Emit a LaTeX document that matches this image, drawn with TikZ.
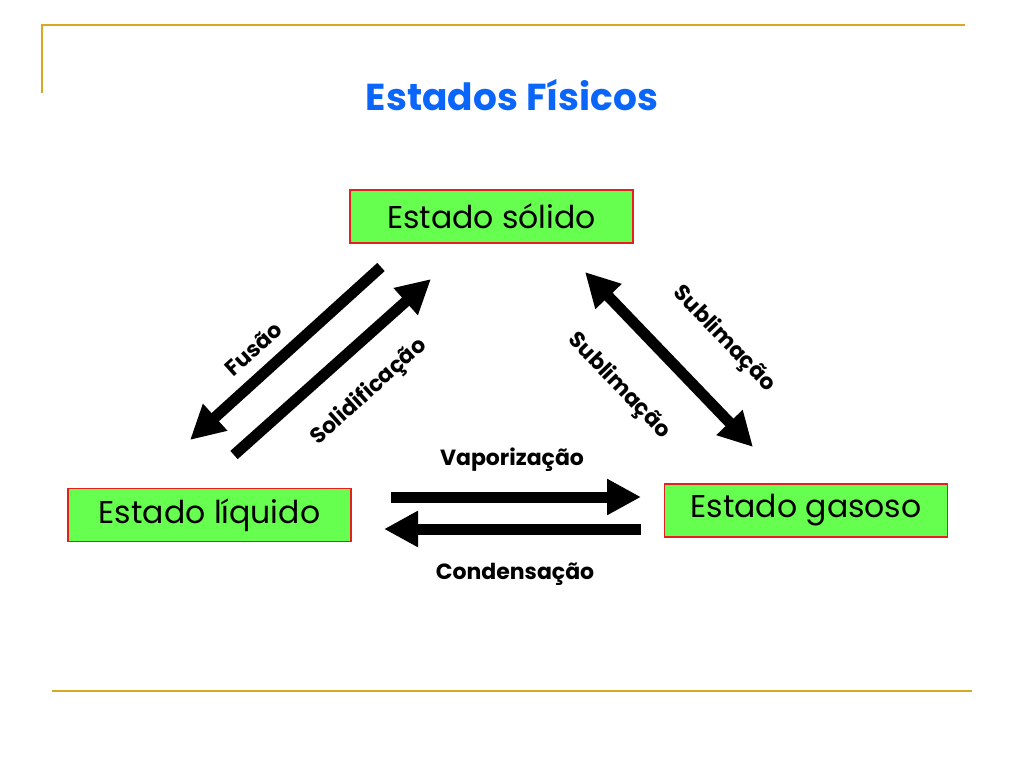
\documentclass[tikz,border=0pt]{standalone}
\usepackage{fontspec}
\setmainfont{Poppins}
\usepackage{xcolor}
\usepackage{tikz}
\usepackage{tkz-euclide}
\usetikzlibrary{arrows.meta,positioning}
\definecolor{rulegold}{RGB}{214,168,36}
\definecolor{titleblue}{RGB}{10,102,250}
\definecolor{boxgreen}{RGB}{102,255,80}
\definecolor{boxred}{RGB}{230,30,30}

\begin{document}
\begin{tikzpicture}[x=1pt,y=-1pt,
  statebox/.style={draw=boxred,line width=1.5pt,fill=boxgreen,minimum width=283pt,
    minimum height=53pt,inner sep=0pt,font=\fontsize{31.5}{36}\selectfont},
  bigarrow/.style={line width=11pt,-{Triangle[width=34pt,length=34pt]}},
  botharrow/.style={line width=11pt,{Triangle[width=34pt,length=34pt]}-{Triangle[width=34pt,length=34pt]}},
  arrowlabel/.style={font=\fontsize{22}{26}\selectfont\bfseries,inner sep=1pt}]
\useasboundingbox (0,0) rectangle (1024,768);

% frame lines
\tkzDefPoint(42,25){tl};
\tkzDefPoint(965,25){tr};
\tkzDefPoint(42,93){tll};
\tkzDefPoint(52,691){bl};
\tkzDefPoint(972,691){br};
\draw[rulegold,line width=2pt] (tll) -- (tl) -- (tr);
\draw[rulegold,line width=2pt] (bl) -- (br);

\node[text=titleblue,font=\fontsize{37.5}{44}\selectfont\bfseries] (title) at (512,95) {Estados Físicos};

% states
\node[statebox] (solido) at (491.5,216.5) {Estado sólido};
\node[statebox] (liquido) at (209.5,515) {Estado líquido};
\node[statebox] (gasoso) at (806,510.5) {Estado gasoso};

% solido <-> liquido
\tkzDefPoint(381,267){fusA};
\tkzDefPoint(190,440){fusB};
\draw[bigarrow] (fusA) -- (fusB);
\node[arrowlabel,rotate=42] (fusao) at (253,349) {Fusão};

\tkzDefPoint(234,455){solA};
\tkzDefPoint(431,279){solB};
\draw[bigarrow] (solA) -- (solB);
\node[arrowlabel,rotate=42] (solidif) at (369,392) {Solidificação};

% solido <-> gasoso
\tkzDefPoint(585,272){subA};
\tkzDefPoint(753,447){subB};
\draw[botharrow] (subA) -- (subB);
\node[arrowlabel,rotate=-46] (sublimL) at (619,386) {Sublimação};
\node[arrowlabel,rotate=-46] (sublimR) at (724,339) {Sublimação};

% liquido <-> gasoso
\tkzDefPoint(391,497){vapA};
\tkzDefPoint(641,497){vapB};
\draw[bigarrow] (vapA) -- (vapB);
\node[arrowlabel] (vapor) at (512,460) {Vaporização};

\tkzDefPoint(641,529){conA};
\tkzDefPoint(384,529){conB};
\draw[bigarrow] (conA) -- (conB);
\node[arrowlabel] (conden) at (515,574) {Condensação};
\end{tikzpicture}
\end{document}
